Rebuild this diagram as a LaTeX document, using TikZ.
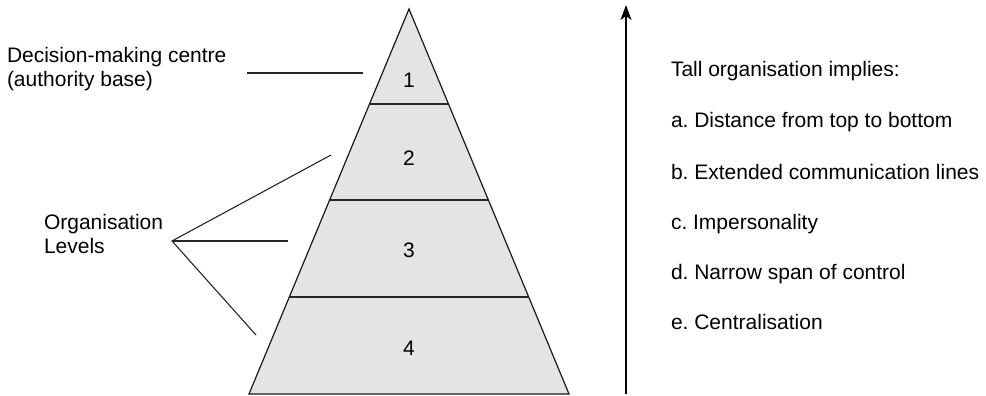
\documentclass[tikz,border=0pt]{standalone}
\usepackage{fontspec}
\setmainfont{Liberation Sans}
\usetikzlibrary{calc,arrows.meta}
\definecolor{pyrfill}{HTML}{E4E4E4}
\frenchspacing
\tikzset{
  lbl/.style={inner sep=0pt, outer sep=0pt, font=\fontsize{21}{24.5}\selectfont},
  num/.style={inner sep=0pt, font=\fontsize{21}{24}\selectfont},
  pointer/.style={line width=1.1pt, draw=black!85},
  level/.style={line width=1.4pt, draw=black!85},
  edge/.style={line width=1.2pt, draw=black!90},
}
\begin{document}
\begin{tikzpicture}[x=1pt,y=-1pt]
\useasboundingbox (0,0) rectangle (986,396);
% pyramid
\coordinate (apex) at (409,9);
\coordinate (bl) at (249,394);
\coordinate (br) at (569,394);
\fill[pyrfill] (apex) -- (bl) -- (br) -- cycle;
\draw[level] ($(apex)!0.2468!(bl)$) coordinate (l1) -- ($(apex)!0.2468!(br)$) coordinate (r1);
\draw[level] ($(apex)!0.4961!(bl)$) coordinate (l2) -- ($(apex)!0.4961!(br)$) coordinate (r2);
\draw[level] ($(apex)!0.7481!(bl)$) coordinate (l3) -- ($(apex)!0.7481!(br)$) coordinate (r3);
\draw[edge, line join=miter] (apex) -- (bl) -- (br) -- cycle;
\node[num] (n1) at (409,80) {1};
\node[num] (n2) at (409,158) {2};
\node[num] (n3) at (409,250) {3};
\node[num] (n4) at (409,348) {4};
% left labels
\node[lbl, align=left, anchor=west] (dec) at (7,69) {Decision-making centre\\(authority base)};
\coordinate (decA) at (247,73);
\coordinate (decB) at (363,73);
\draw[pointer] (decA) -- (decB);
\node[lbl, align=left, anchor=west] (org) at (44,234) {Organisation\\Levels};
\coordinate (fan) at (172,241);
\coordinate (f1) at (331,155);
\coordinate (f2) at (288,241);
\coordinate (f3) at (256,335);
\draw[pointer] (f1) -- (fan) -- (f3);
\draw[pointer] (fan) -- (f2);
% arrow
\coordinate (arB) at (626,394);
\coordinate (arT) at (626,5);
\draw[line width=1.2pt, -{Stealth[length=15pt,width=11pt,inset=4pt]}] (arB) -- (arT);
% right text
\node[lbl, anchor=base west] (t0) at (671,77) {Tall organisation implies:};
\node[lbl, anchor=base west] (ta) at (671,128) {a. Distance from top to bottom};
\node[lbl, anchor=base west] (tb) at (671,179) {b. Extended communication lines};
\node[lbl, anchor=base west] (tc) at (671,229) {c. Impersonality};
\node[lbl, anchor=base west] (td) at (671,279) {d. Narrow span of control};
\node[lbl, anchor=base west] (te) at (671,329) {e. Centralisation};
\end{tikzpicture}
\end{document}
